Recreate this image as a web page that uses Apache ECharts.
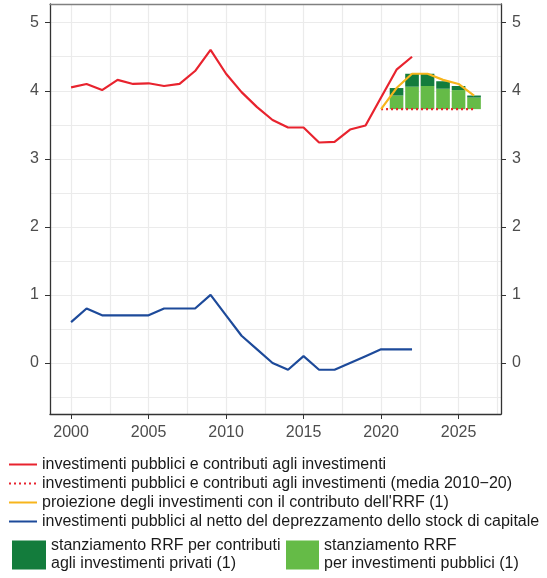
<!DOCTYPE html>
<html>
<head>
<meta charset="utf-8">
<script src="https://cdn.jsdelivr.net/npm/echarts@6/dist/echarts.min.js"></script>
<style>
  html, body { margin: 0; padding: 0; background: #fff; }
  #chart { width: 547px; height: 578px; }
</style>
</head>
<body>
<div id="chart"></div>
<script>
// serie storiche (% del PIL)
var years = [2000, 2001, 2002, 2003, 2004, 2005, 2006, 2007, 2008, 2009, 2010, 2011,
  2012, 2013, 2014, 2015, 2016, 2017, 2018, 2019, 2020, 2021, 2022];
var investData = [4.05, 4.10, 4.01, 4.16, 4.10, 4.11, 4.07, 4.10, 4.29, 4.60, 4.25, 3.98,
  3.76, 3.57, 3.46, 3.46, 3.24, 3.25, 3.43, 3.49, 3.90, 4.31, 4.50];
var netData = [0.6, 0.8, 0.7, 0.7, 0.7, 0.7, 0.8, 0.8, 0.8, 1.0, 0.7, 0.4,
  0.2, 0.0, -0.1, 0.1, -0.1, -0.1, 0.0, 0.1, 0.2, 0.2, 0.2];

// media 2010-20 e proiezione
var avgYears = [2020, 2026];
var avgValue = 3.73;
var projYears = [2020, 2021, 2022, 2023, 2024, 2025, 2026];
var projData = [3.73, 4.04, 4.25, 4.25, 4.16, 4.10, 3.93];

// stanziamenti RRF (incrementi sopra la media)
var barYears = [2021, 2022, 2023, 2024, 2025, 2026];
var pubData = [0.20, 0.33, 0.34, 0.30, 0.28, 0.17];
var privData = [0.11, 0.19, 0.18, 0.11, 0.06, 0.03];

// assi
var xTicks = [2000, 2005, 2010, 2015, 2020, 2025];
var xGrid = [2000, 2002.5, 2005, 2007.5, 2010, 2012.5, 2015, 2017.5, 2020, 2022.5, 2025, 2027.5];
var yTicks = [0, 1, 2, 3, 4, 5];
var yGrid = [-0.5, 0, 0.5, 1, 1.5, 2, 2.5, 3, 3.5, 4, 4.5, 5];

var names = {
  invest: 'investimenti pubblici e contributi agli investimenti',
  avg: 'investimenti pubblici e contributi agli investimenti (media 2010\u221220)',
  proj: "proiezione degli investimenti con il contributo dell'RRF (1)",
  net: 'investimenti pubblici al netto del deprezzamento dello stock di capitale',
  priv: 'stanziamento RRF per contributi agli investimenti privati (1)',
  pub: 'stanziamento RRF per investimenti pubblici (1)'
};

var font = 'Liberation Sans, Arial, sans-serif';
var pair = function (xs, ys) { return xs.map(function (x, i) { return [x, ys[i]]; }); };

// barre impilate sopra la media: [anno, base, cima]
var pubRows = barYears.map(function (x, i) {
  return [x, avgValue, avgValue + pubData[i]];
});
var privRows = barYears.map(function (x, i) {
  return [x, avgValue + pubData[i], avgValue + pubData[i] + privData[i]];
});

function renderBar(color) {
  return function (params, api) {
    var x = api.value(0);
    var p0 = api.coord([x, api.value(1)]);
    var p1 = api.coord([x, api.value(2)]);
    var w = api.size([1, 0])[0] * 0.88;
    return {
      type: 'rect',
      shape: { x: p0[0] - w / 2, y: p1[1], width: w, height: p0[1] - p1[1] },
      style: { fill: color }
    };
  };
}

var chart = echarts.init(document.getElementById('chart'));

var axisX = {
  type: 'value', min: 1998.64, max: 2027.74,
  splitLine: { show: false }
};
var axisY = {
  type: 'value', min: -0.75, max: 5.275,
  splitLine: { show: false },
  axisLine: { show: true, onZero: false, lineStyle: { color: '#333', width: 1.3 } },
  axisTick: { show: true, customValues: yTicks, length: 5, lineStyle: { color: '#333' } },
  axisLabel: { customValues: yTicks, color: '#4d4d4d', fontSize: 16, fontFamily: font, margin: 11,
    formatter: function (v) { return String(v); } }
};

var legendText = { fontSize: 16, fontFamily: font, color: '#1a1a1a' };

var option = {
  animation: false,
  grid: { left: 50, right: 46, top: 4, bottom: 164 },
  xAxis: [
    Object.assign({}, axisX, {
      position: 'bottom',
      axisLine: { show: true, onZero: false, lineStyle: { color: '#333', width: 1.3 } },
      axisTick: { show: true, customValues: xTicks, length: 5, lineStyle: { color: '#333' } },
      axisLabel: { customValues: xTicks, color: '#4d4d4d', fontSize: 16, fontFamily: font, margin: 11,
        formatter: function (v) { return String(v); } }
    }),
    Object.assign({}, axisX, {
      position: 'top',
      axisLine: { show: true, onZero: false, lineStyle: { color: '#808080', width: 1.3 } },
      axisTick: { show: false },
      axisLabel: { show: false }
    })
  ],
  yAxis: [
    Object.assign({}, axisY, { position: 'left' }),
    Object.assign({}, axisY, { position: 'right' })
  ],
  legend: [
    {
      data: [names.invest, names.avg, names.proj, names.net],
      orient: 'vertical', left: 8, top: 455, padding: 0,
      itemWidth: 28, itemHeight: 10, itemGap: 0,
      itemStyle: { opacity: 0, borderWidth: 0 },
      textStyle: Object.assign({ lineHeight: 19 }, legendText)
    },
    {
      data: [{ name: names.priv, icon: 'rect' }],
      left: 12, top: 537, padding: 0, itemWidth: 34, itemHeight: 29,
      formatter: function () { return 'stanziamento RRF per contributi\nagli investimenti privati (1)'; },
      textStyle: Object.assign({ lineHeight: 18 }, legendText)
    },
    {
      data: [{ name: names.pub, icon: 'rect' }],
      left: 286, top: 537, padding: 0, itemWidth: 33, itemHeight: 29,
      formatter: function () { return 'stanziamento RRF\nper investimenti pubblici (1)'; },
      textStyle: Object.assign({ lineHeight: 18 }, legendText)
    }
  ],
  series: [
    // griglia
    {
      type: 'line', data: [], silent: true, z: 0,
      markLine: {
        silent: true, symbol: 'none', label: { show: false }, z: 0,
        lineStyle: { color: '#ebebeb', width: 1.2, type: 'solid' },
        data: xGrid.map(function (v) { return { xAxis: v }; })
          .concat(yGrid.map(function (v) { return { yAxis: v }; }))
      }
    },
    {
      name: names.pub, type: 'custom', z: 2, silent: true,
      itemStyle: { color: '#65bb47' },
      encode: { x: 0, y: [1, 2] },
      renderItem: renderBar('#65bb47'),
      data: pubRows
    },
    {
      name: names.priv, type: 'custom', z: 2, silent: true,
      itemStyle: { color: '#137c3c' },
      encode: { x: 0, y: [1, 2] },
      renderItem: renderBar('#137c3c'),
      data: privRows
    },
    {
      name: names.avg, type: 'line', symbol: 'none', z: 3,
      lineStyle: { color: '#e8232e', width: 2.2, type: [2, 3] },
      data: avgYears.map(function (x) { return [x, avgValue]; })
    },
    {
      name: names.proj, type: 'line', symbol: 'none', z: 3,
      lineStyle: { color: '#f7b51c', width: 2.2 },
      data: pair(projYears, projData)
    },
    {
      name: names.invest, type: 'line', symbol: 'none', z: 4,
      lineStyle: { color: '#e8232e', width: 2.2 },
      data: pair(years, investData)
    },
    {
      name: names.net, type: 'line', symbol: 'none', z: 4,
      lineStyle: { color: '#1d4a9a', width: 2.2 },
      data: pair(years, netData)
    }
  ]
};

chart.setOption(option);
</script>
</body>
</html>
